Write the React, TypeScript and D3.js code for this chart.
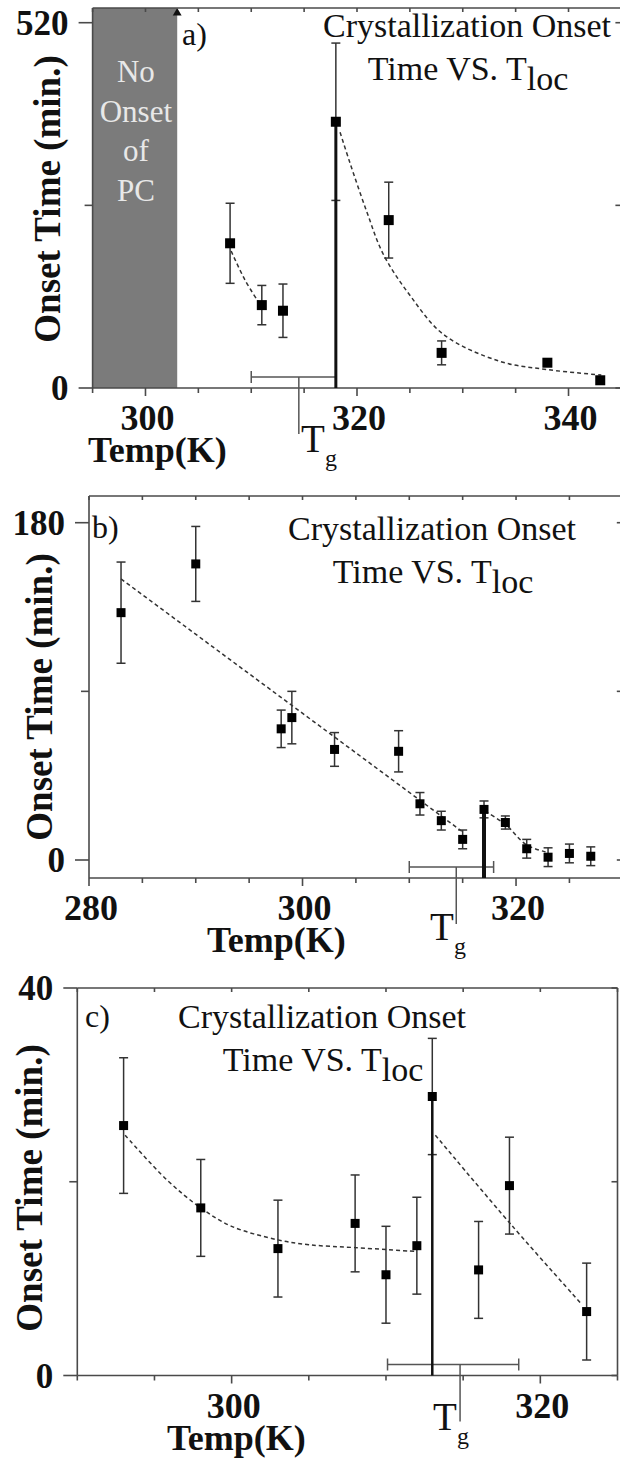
import * as d3 from 'd3';

// ---- panel a) ----
const aTemp = [308, 311, 313, 318, 323, 328, 338, 343];
const aOnset = [206, 118, 110, 379, 239, 50, 36, 11];
const aErr = [57, 28, 38, 112, 54, 17, 0, 0];
const aFitLeft = [[308.1, 195], [309.4, 154], [310.7, 122]];
const aFitRight = [
  [318.4, 364], [319.3, 322], [320.9, 252], [322.5, 190], [325.0, 132],
  [328.2, 76], [333.5, 38], [338.1, 26], [343.1, 18.5],
];
const aNoOnset = [295, 303];
const aXTicks = [295, 300, 305, 310, 315, 320, 325, 330, 335, 340, 345];
const aXLabels = [300, 320, 340];
const aYTicks = [0, 260, 520];
const aYLabels = [0, 520];

// ---- panel b) ----
const bTemp = [283, 290, 298, 299, 303, 309, 311, 313, 315, 317, 319, 321, 323, 325, 327];
const bOnset = [132, 158, 70, 76, 59, 58, 30, 21, 11, 27, 20, 6, 1.5, 3.5, 2];
const bErr = [27, 20, 10, 14, 9, 11, 6, 5, 5, 4.5, 3.5, 5, 5, 5, 5];
const bFitLeft = [[283, 150], [315, 15]];
const bFitRight = [[317.1, 26], [319, 19], [321, 8], [323, 4]];
const bXTicks = [280, 285, 290, 295, 300, 305, 310, 315, 320, 325, 330];
const bXLabels = [280, 300, 320];
const bYTicks = [0, 90, 180];
const bYLabels = [0, 180];

// ---- panel c) ----
const cTemp = [293, 298, 303, 308, 310, 312, 313, 316, 318, 323];
const cOnset = [25.8, 17.3, 13.1, 15.7, 10.4, 13.4, 28.8, 10.9, 19.6, 6.6];
const cErr = [7, 5, 5, 5, 5, 5, 6, 5, 5, 5];
const cFitLeft = [
  [293.1, 24.8], [295.8, 20.2], [298, 17.3], [300, 15.4], [303, 14.0],
  [305, 13.5], [308, 13.2], [312, 12.8],
];
const cFitRight = [[313.2, 24.8], [318.2, 15.4], [322.6, 7.5]];
const cXTicks = [290, 295, 300, 305, 310, 315, 320, 325];
const cXLabels = [300, 320];
const cYTicks = [0, 20, 40];
const cYLabels = [0, 40];

const SERIF = '"Liberation Serif", "Times New Roman", serif';
const AXIS = '#4a4a4a';

type PanelProps = {
  tag: string;
  temp: number[];
  onset: number[];
  err: number[];
  fits: number[][][];
  peak: number;
  tg: [number, number, number];
  xDomain: [number, number];
  xRange: [number, number];
  yDomain: [number, number];
  yRange: [number, number];
  top: number;
  bottom: number;
  xTicks: number[];
  xLabels: number[];
  yTicks: number[];
  yLabels: number[];
  marker: number;
  peakWidth: number;
  titleX: number;
  titleY: number;
  tagPos: [number, number];
  yTitle: [number, number];
  xTitleX: number;
  tgLabel: [number, number];
  shade?: number[];
};

function Panel(p: PanelProps) {
  const x = d3.scaleLinear().domain(p.xDomain).range(p.xRange);
  const y = d3.scaleLinear().domain(p.yDomain).range(p.yRange);
  const [left, right] = p.xRange;
  const line = d3
    .line<number[]>()
    .x((d) => x(d[0]))
    .y((d) => y(d[1]))
    .curve(d3.curveCatmullRom.alpha(0.5));
  const tgY = p.bottom - 11;

  return (
    <g>
      {p.shade && (
        <g>
          <rect
            x={x(p.shade[0])}
            y={p.top}
            width={x(p.shade[1]) - x(p.shade[0])}
            height={p.bottom - p.top}
            fill="#7b7b7b"
          />
          {['No', 'Onset', 'of', 'PC'].map((t, i) => (
            <text
              key={t}
              x={(x(p.shade![0]) + x(p.shade![1])) / 2 + 1}
              y={82 + i * 39.5}
              textAnchor="middle"
              fontFamily={SERIF}
              fontSize={31}
              fill="#e8e8e8"
            >
              {t}
            </text>
          ))}
          <path
            d={d3.symbol(d3.symbolTriangle, 34)() || ''}
            transform={`translate(${x(p.shade[1])},${p.top + 5})`}
            fill="#111"
          />
        </g>
      )}

      {/* frame */}
      <g stroke={AXIS} strokeWidth={1.6} fill="none">
        <line x1={left} x2={right} y1={p.top} y2={p.top} />
        <line x1={left} x2={right} y1={p.bottom} y2={p.bottom} />
        <line x1={left} x2={left} y1={p.top} y2={p.bottom} />
        <line x1={right} x2={right} y1={p.top} y2={p.bottom} />
        {p.xTicks.map((t) => {
          const major = p.xLabels.includes(t);
          return (
            <g key={t}>
              <line x1={x(t)} x2={x(t)} y1={p.bottom} y2={p.bottom + (major ? 8 : 5)} />
              <line x1={x(t)} x2={x(t)} y1={p.top} y2={p.top + 4} />
            </g>
          );
        })}
        {p.yTicks.map((t) => {
          const major = p.yLabels.includes(t);
          return (
            <g key={t}>
              <line x1={left - (major ? 14 : 8)} x2={left} y1={y(t)} y2={y(t)} />
              <line x1={right - 6} x2={right} y1={y(t)} y2={y(t)} />
            </g>
          );
        })}
      </g>

      {/* tick labels */}
      {p.xLabels.map((t) => (
        <text
          key={t}
          x={x(t) + 2}
          y={p.bottom + 42}
          textAnchor="middle"
          fontFamily={SERIF}
          fontWeight="bold"
          fontSize={36}
          fill="#111"
        >
          {t}
        </text>
      ))}
      {p.yLabels.map((t) => (
        <text
          key={t}
          x={left - 24}
          y={y(t)}
          dy="0.35em"
          textAnchor="end"
          fontFamily={SERIF}
          fontWeight="bold"
          fontSize={35}
          fill="#111"
        >
          {t}
        </text>
      ))}

      {/* axis titles */}
      <text
        x={p.xTitleX}
        y={p.bottom + 74}
        fontFamily={SERIF}
        fontWeight="bold"
        fontSize={36}
        fill="#111"
      >
        Temp(K)
      </text>
      <text
        transform={`translate(${p.yTitle[0]},${p.yTitle[1]}) rotate(-90)`}
        textAnchor="middle"
        fontFamily={SERIF}
        fontWeight="bold"
        fontSize={37}
        fill="#111"
      >
        Onset Time (min.)
      </text>

      {/* panel tag and title */}
      <text x={p.tagPos[0]} y={p.tagPos[1]} fontFamily={SERIF} fontSize={32} fill="#111">
        {p.tag}
      </text>
      <text x={p.titleX} y={p.titleY} textAnchor="middle" fontFamily={SERIF} fontSize={34} fill="#111">
        Crystallization Onset
      </text>
      <text x={p.titleX + 1} y={p.titleY + 43} textAnchor="middle" fontFamily={SERIF} fontSize={34} fill="#111">
        Time VS. T
        <tspan dy={10}>loc</tspan>
      </text>

      {/* fit lines */}
      {p.fits.map((f, i) => (
        <path
          key={i}
          d={line(f) || ''}
          fill="none"
          stroke="#333"
          strokeWidth={1.5}
          strokeDasharray="4 3"
        />
      ))}

      {/* Tg marker */}
      <g stroke="#555" strokeWidth={1.5}>
        <line x1={x(p.tg[1])} x2={x(p.tg[2])} y1={tgY} y2={tgY} />
        <line x1={x(p.tg[1])} x2={x(p.tg[1])} y1={tgY - 6} y2={tgY + 6} />
        <line x1={x(p.tg[2])} x2={x(p.tg[2])} y1={tgY - 6} y2={tgY + 6} />
        <line x1={x(p.tg[0])} x2={x(p.tg[0])} y1={tgY} y2={p.bottom + 46} />
      </g>
      <text x={p.tgLabel[0]} y={p.tgLabel[1]} fontFamily={SERIF} fontSize={39} fill="#111">
        T
      </text>
      <text x={p.tgLabel[0] + 24} y={p.tgLabel[1] + 14} fontFamily={SERIF} fontSize={24} fill="#111">
        g
      </text>

      {/* error bars */}
      <g stroke="#333" strokeWidth={1.5}>
        {p.temp.map((t, i) =>
          p.err[i] > 0 ? (
            <g key={i}>
              <line x1={x(t)} x2={x(t)} y1={y(p.onset[i] - p.err[i])} y2={y(p.onset[i] + p.err[i])} />
              <line x1={x(t) - 4.5} x2={x(t) + 4.5} y1={y(p.onset[i] + p.err[i])} y2={y(p.onset[i] + p.err[i])} />
              <line x1={x(t) - 4.5} x2={x(t) + 4.5} y1={y(p.onset[i] - p.err[i])} y2={y(p.onset[i] - p.err[i])} />
            </g>
          ) : null
        )}
      </g>

      {/* peak marker line */}
      <line
        x1={x(p.temp[p.peak])}
        x2={x(p.temp[p.peak])}
        y1={y(p.onset[p.peak])}
        y2={p.bottom}
        stroke="#111"
        strokeWidth={p.peakWidth}
      />

      {/* points */}
      {p.temp.map((t, i) => (
        <rect
          key={i}
          x={x(t) - p.marker / 2}
          y={y(p.onset[i]) - p.marker / 2}
          width={p.marker}
          height={p.marker}
          fill="#000"
        />
      ))}
    </g>
  );
}

export default function App() {
  return (
    <svg
      width={620}
      height={1460}
      style={{ position: 'absolute', left: 0, top: 0, background: '#fff' }}
    >
      <rect width={620} height={1460} fill="#fff" />
      <Panel
        tag="a)"
        temp={aTemp}
        onset={aOnset}
        err={aErr}
        fits={[aFitLeft, aFitRight]}
        peak={3}
        tg={[314.5, 310, 318]}
        xDomain={[295, 345]}
        xRange={[92.6, 621.4]}
        yDomain={[0, 520]}
        yRange={[388, 22.7]}
        top={8}
        bottom={388}
        xTicks={aXTicks}
        xLabels={aXLabels}
        yTicks={aYTicks}
        yLabels={aYLabels}
        marker={10}
        peakWidth={3}
        titleX={467}
        titleY={37}
        tagPos={[182, 45]}
        yTitle={[60, 199]}
        xTitleX={88}
        tgLabel={[301, 452]}
        shade={aNoOnset}
      />
      <Panel
        tag="b)"
        temp={bTemp}
        onset={bOnset}
        err={bErr}
        fits={[bFitLeft, bFitRight]}
        peak={9}
        tg={[314.4, 310, 317.9]}
        xDomain={[280, 330]}
        xRange={[89, 622.8]}
        yDomain={[0, 180]}
        yRange={[860, 522.7]}
        top={496}
        bottom={878}
        xTicks={bXTicks}
        xLabels={bXLabels}
        yTicks={bYTicks}
        yLabels={bYLabels}
        marker={9}
        peakWidth={4}
        titleX={432}
        titleY={540}
        tagPos={[92, 538]}
        yTitle={[52, 697]}
        xTitleX={207}
        tgLabel={[430, 940]}
      />
      <Panel
        tag="c)"
        temp={cTemp}
        onset={cOnset}
        err={cErr}
        fits={[cFitLeft, cFitRight]}
        peak={6}
        tg={[314.8, 310.1, 318.6]}
        xDomain={[290, 325]}
        xRange={[77.3, 617.5]}
        yDomain={[0, 40]}
        yRange={[1375.5, 988]}
        top={988}
        bottom={1375.5}
        xTicks={cXTicks}
        xLabels={cXLabels}
        yTicks={cYTicks}
        yLabels={cYLabels}
        marker={9}
        peakWidth={2.5}
        titleX={322}
        titleY={1028}
        tagPos={[85, 1027]}
        yTitle={[42, 1188]}
        xTitleX={167}
        tgLabel={[433, 1430]}
      />
    </svg>
  );
}
